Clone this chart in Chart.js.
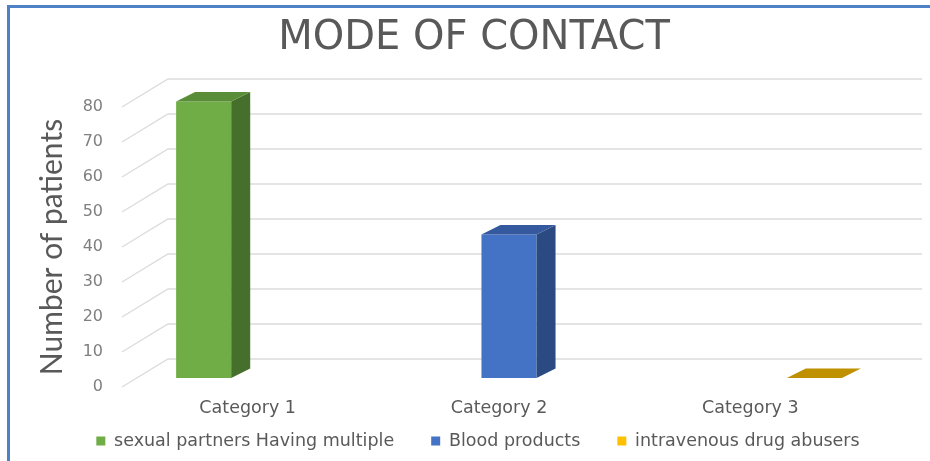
<!DOCTYPE html>
<html>
<head>
<meta charset="utf-8">
<script src="https://cdn.jsdelivr.net/npm/chart.js@4.4.1/dist/chart.umd.min.js"></script>
<style>
  html, body { margin: 0; padding: 0; background: #ffffff; }
  #wrap { position: relative; width: 930px; height: 461px; overflow: hidden; }
  #frame { position: absolute; left: 7px; top: 5px; right: -10px; bottom: -10px;
           border-left: 3px solid #4f81c6; border-top: 3px solid #4f81c6; pointer-events: none; }
  canvas { position: absolute; left: 0; top: 0; }
</style>
</head>
<body>
<div id="wrap">
  <canvas id="c" width="930" height="461"></canvas>
  <div id="frame"></div>
</div>
<script>
// ---- data ----
const chartTitle = 'MODE OF CONTACT';
const yAxisTitle = 'Number of patients';
const categories = ['Category 1', 'Category 2', 'Category 3'];
const seriesNames = ['sexual partners Having multiple', 'Blood products', 'intravenous drug abusers'];
const sexualPartnersValues = [79, null, null];
const bloodProductsValues = [null, 41, null];
const ivDrugAbusersValues = [null, null, 0];
const yTickMin = 0;
const yTickMax = 80;
const yTickStep = 10;

// ---- styles ----
const frontColors = ['#70ad47', '#4472c4', '#ffc000'];
const topColors = ['#5a8d38', '#35599e', '#bf9000'];
const sideColors = ['#476f2c', '#2c4a82', '#9a7400'];
const depth = { bx: 10, by: -9, dx: 19, dy: -9.5, wx: 46, wy: -28 };
const legendFont = 17.5;
const legendPad = 37;

const threeD = {
  id: 'threeD',
  afterLayout(chart) {
    // place title and legend the way the reference does
    const t = chart.titleBlock, lg = chart.legend;
    t.left = 36; t.right = 912;
    lg.left = 40; lg.right = 916;
    lg.top = 441 - legendPad - legendFont / 2;
    lg.bottom = 461;
  },
  beforeDatasetsDraw(chart) {
    const { ctx, chartArea: a, scales: { y } } = chart;
    ctx.save();
    ctx.strokeStyle = '#dcdcdc';
    ctx.lineWidth = 1.4;
    y.ticks.forEach(t => {
      const py = y.getPixelForValue(t.value);
      ctx.beginPath();
      ctx.moveTo(a.left, py);
      ctx.lineTo(a.left + depth.wx, py + depth.wy);
      ctx.lineTo(a.right + depth.wx, py + depth.wy);
      ctx.stroke();
    });
    ctx.restore();
    ctx.save();
    ctx.translate(depth.bx, depth.by);
  },
  afterDatasetsDraw(chart) {
    const ctx = chart.ctx;
    chart.data.datasets.forEach((ds, i) => {
      const meta = chart.getDatasetMeta(i);
      meta.data.forEach((bar, j) => {
        if (ds.data[j] === null || ds.data[j] === undefined) return;
        const { x, y, base, width } = bar.getProps(['x', 'y', 'base', 'width'], true);
        const l = x - width / 2, r = x + width / 2;
        if (base - y > 0.5) {
          ctx.fillStyle = sideColors[i];
          ctx.beginPath();
          ctx.moveTo(r, y); ctx.lineTo(r + depth.dx, y + depth.dy);
          ctx.lineTo(r + depth.dx, base + depth.dy); ctx.lineTo(r, base);
          ctx.closePath(); ctx.fill();
        }
        ctx.fillStyle = topColors[i];
        ctx.beginPath();
        ctx.moveTo(l, y); ctx.lineTo(l + depth.dx, y + depth.dy);
        ctx.lineTo(r + depth.dx, y + depth.dy); ctx.lineTo(r, y);
        ctx.closePath(); ctx.fill();
      });
    });
    ctx.restore();
  }
};

new Chart(document.getElementById('c'), {
  type: 'bar',
  data: {
    labels: categories,
    datasets: [
      { label: seriesNames[0], data: sexualPartnersValues, backgroundColor: frontColors[0] },
      { label: seriesNames[1], data: bloodProductsValues, backgroundColor: frontColors[1] },
      { label: seriesNames[2], data: ivDrugAbusersValues, backgroundColor: frontColors[2] }
    ]
  },
  plugins: [threeD],
  options: {
    responsive: false,
    animation: false,
    events: [],
    layout: { padding: { left: 0, right: 54, top: 0, bottom: 0 } },
    datasets: { bar: { categoryPercentage: 0.6446, barPercentage: 1.02, borderWidth: 0 } },
    scales: {
      x: {
        grid: { display: false, drawTicks: false },
        border: { display: false },
        ticks: { font: { family: 'DejaVu Sans', size: 17.5 }, color: '#595959', padding: 11, maxRotation: 0, autoSkip: false },
        afterFit(s) {
          const lh = (s.chart.legend && s.chart.legend.height) || 30;
          s.height = 461 - 387 - lh;
        }
      },
      y: {
        min: yTickMin, max: yTickMax,
        grid: { display: false, drawTicks: false },
        border: { display: false },
        ticks: { stepSize: yTickStep, font: { family: 'DejaVu Sans', size: 16 }, color: '#7f7f7f', padding: 19 },
        title: { display: true, text: yAxisTitle, font: { family: 'Lato', size: 30 }, color: '#595959', padding: { top: 34, bottom: 0 } },
        afterFit(s) { s.width = 122; }
      }
    },
    plugins: {
      title: { display: true, text: chartTitle, font: { family: 'DejaVu Sans', size: 40, weight: 'normal' }, color: '#595959', padding: { top: 15, bottom: 44 } },
      legend: { position: 'bottom', maxHeight: 30, labels: { font: { family: 'DejaVu Sans', size: legendFont }, color: '#595959', boxWidth: 9, boxHeight: 9, padding: legendPad } },
      tooltip: { enabled: false }
    }
  }
});
</script>
</body>
</html>
